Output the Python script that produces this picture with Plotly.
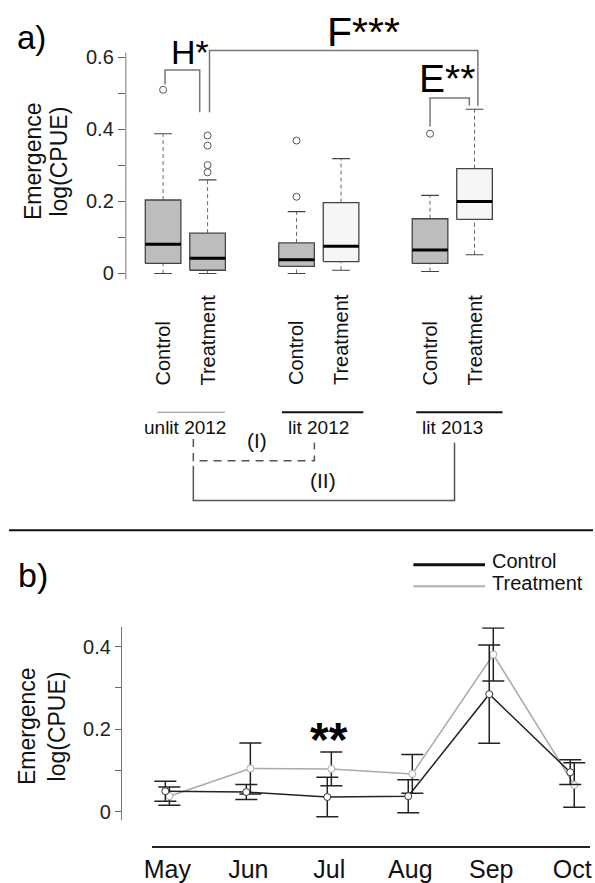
import plotly.graph_objects as go

# ---------------- data ----------------
groups = ["unlit 2012", "lit 2012", "lit 2013"]
treatments = ["Control", "Treatment"]

# box-plot statistics, order: unlit C, unlit T, lit12 C, lit12 T, lit13 C, lit13 T
box_lower = [0.0, 0.0, 0.0, 0.009, 0.0055, 0.052]
box_q1 = [0.028, 0.009, 0.020, 0.033, 0.028, 0.150]
box_median = [0.081, 0.042, 0.0385, 0.076, 0.065, 0.200]
box_q3 = [0.204, 0.112, 0.085, 0.197, 0.152, 0.291]
box_upper = [0.388, 0.260, 0.172, 0.319, 0.217, 0.456]
box_outliers = [[0.51], [0.383, 0.355, 0.301, 0.281], [0.213, 0.369], [], [0.388], []]

months = ["May", "Jun", "Jul", "Aug", "Sep", "Oct"]
control_mean = [0.050, 0.048, 0.036, 0.038, 0.285, 0.096]
control_err = [0.024, 0.018, 0.048, 0.040, 0.119, 0.030]
treatment_mean = [0.038, 0.105, 0.104, 0.092, 0.381, 0.065]
treatment_err = [0.022, 0.062, 0.041, 0.047, 0.064, 0.054]

sig_labels = ["H*", "F***", "E**"]
year_labels = ["(I)", "(II)"]
month_sig = "**"

# ---------------- helpers ----------------
W, H = 595, 883
FONT = "Liberation Sans, Arial, sans-serif"


def px(x):
    return x / W


def py(y):
    return 1 - y / H


fig = go.Figure()

# ---------------- panel a: box plots ----------------
positions = []
for g in range(len(groups)):
    for t in range(len(treatments)):
        positions.append(3 * g + t)

half_w = 0.4
cap_w = 0.2
for i, p in enumerate(positions):
    grp, trt = divmod(i, 2)
    fill = "#bdbdbd" if (trt == 0 or grp == 0) else "#f6f6f6"
    # whiskers (dashed)
    fig.add_trace(go.Scatter(
        x=[p, p, None, p, p],
        y=[box_lower[i], box_q1[i], None, box_q3[i], box_upper[i]],
        mode="lines", line=dict(color="#666", width=1, dash="4px,3px"),
        xaxis="x", yaxis="y", showlegend=False, hoverinfo="skip"))
    # whisker caps
    fig.add_trace(go.Scatter(
        x=[p - cap_w, p + cap_w, None, p - cap_w, p + cap_w],
        y=[box_lower[i], box_lower[i], None, box_upper[i], box_upper[i]],
        mode="lines", line=dict(color="#444", width=1.2),
        xaxis="x", yaxis="y", showlegend=False, hoverinfo="skip"))
    # box body
    fig.add_trace(go.Scatter(
        x=[p - half_w, p + half_w, p + half_w, p - half_w, p - half_w],
        y=[box_q1[i], box_q1[i], box_q3[i], box_q3[i], box_q1[i]],
        mode="lines", fill="toself", fillcolor=fill,
        line=dict(color="#444", width=1.3),
        xaxis="x", yaxis="y", showlegend=False, hoverinfo="skip"))
    # median
    fig.add_trace(go.Scatter(
        x=[p - half_w, p + half_w], y=[box_median[i], box_median[i]],
        mode="lines", line=dict(color="#000", width=3),
        xaxis="x", yaxis="y", showlegend=False, hoverinfo="skip"))
    # outliers
    if box_outliers[i]:
        fig.add_trace(go.Scatter(
            x=[p] * len(box_outliers[i]), y=box_outliers[i], mode="markers",
            marker=dict(symbol="circle-open", size=7, color="#555",
                        line=dict(width=1)),
            xaxis="x", yaxis="y", showlegend=False, hoverinfo="skip"))

# y axis line of panel a
fig.add_shape(type="line", xref="paper", yref="y", x0=px(119), x1=px(119),
              y0=-0.0165, y1=0.6135, line=dict(color="#777", width=1))

# significance brackets in panel a (x in box positions, y in data units)
brackets = [
    # (x_left, y_left_end, x_right, y_right_end, y_top)
    (0.044, 0.525, 0.823, 0.448, 0.565),
    (1.043, 0.448, 7.075, 0.466, 0.619),
    (6.0, 0.408, 6.883, 0.466, 0.487),
]
for xl, yl, xr, yr, yt in brackets:
    fig.add_shape(type="path", xref="x", yref="y",
                  path=f"M{xl},{yl} L{xl},{yt} L{xr},{yt} L{xr},{yr}",
                  line=dict(color="#777", width=1.5))

sig_pos = [(0.596, 0.615, 34), (4.511, 0.671, 41), (6.375, 0.5425, 39)]
for lab, (x, y, s) in zip(sig_labels, sig_pos):
    fig.add_annotation(text=lab, x=x, y=y, xref="x", yref="y",
                       xanchor="center", yanchor="middle", showarrow=False,
                       font=dict(family=FONT, size=s, color="#000"))

# treatment labels (rotated) under each box
for i, p in enumerate(positions):
    fig.add_annotation(text=treatments[i % 2], x=p, y=py(391), xref="x",
                       yref="paper", textangle=-90, xanchor="center",
                       yanchor="bottom", showarrow=False,
                       font=dict(family=FONT, size=20, color="#111"))

# group underlines and labels
underline = [(-0.63, 0.89, "#888", 1), (-0.83, 1.0, "#111", 2),
             (-0.81, 1.13, "#111", 2)]
for g, name in enumerate(groups):
    c = 3 * g + 0.5
    a, b, col, lw = underline[g]
    fig.add_shape(type="line", xref="x", yref="paper", x0=c + a, x1=c + b,
                  y0=py(416), y1=py(416), line=dict(color=col, width=lw))
    fig.add_annotation(text=name, x=c, y=py(431.5), xref="x", yref="paper",
                       xanchor="center", yanchor="middle", showarrow=False,
                       font=dict(family=FONT, size=19, color="#111"))

# year comparison brackets (I) dashed, (II) solid
fig.add_shape(type="path", xref="x", yref="paper",
              path=f"M0.68,{py(443)} L0.68,{py(465)} L3.4,{py(465)} L3.4,{py(446.7)}",
              line=dict(color="#555", width=1.5, dash="8px,6px"))
fig.add_shape(type="path", xref="x", yref="paper",
              path=f"M0.68,{py(470)} L0.68,{py(505)} L6.55,{py(505)} L6.55,{py(446.7)}",
              line=dict(color="#555", width=1.5))
fig.add_annotation(text=year_labels[0], x=2.12, y=py(445), xref="x",
                   yref="paper", showarrow=False, xanchor="center",
                   yanchor="middle",
                   font=dict(family=FONT, size=21, color="#111"))
fig.add_annotation(text=year_labels[1], x=3.6, y=py(485), xref="x",
                   yref="paper", showarrow=False, xanchor="center",
                   yanchor="middle",
                   font=dict(family=FONT, size=21, color="#111"))

# ---------------- panel b: monthly means ----------------
idx = list(range(len(months)))
fig.add_trace(go.Scatter(
    x=[i + 0.025 for i in idx], y=treatment_mean, mode="lines+markers",
    line=dict(color="#aaa", width=1.5),
    marker=dict(size=7, color="white", line=dict(color="#aaa", width=1)),
    error_y=dict(type="data", array=treatment_err, color="#222",
                 thickness=1.5, width=11),
    xaxis="x2", yaxis="y2", showlegend=False, hoverinfo="skip"))
fig.add_trace(go.Scatter(
    x=[i - 0.025 for i in idx], y=control_mean, mode="lines+markers",
    line=dict(color="#222", width=1.5),
    marker=dict(size=7, color="white", line=dict(color="#333", width=1)),
    error_y=dict(type="data", array=control_err, color="#222",
                 thickness=1.5, width=11),
    xaxis="x2", yaxis="y2", showlegend=False, hoverinfo="skip"))

fig.add_annotation(text=f"<b>{month_sig}</b>", x=2, y=0.176, xref="x2",
                   yref="y2", showarrow=False, xanchor="center",
                   yanchor="middle",
                   font=dict(family=FONT, size=48, color="#000"))

# legend drawn by hand
for (name, col, lw, yy, ty) in [("Control", "#111", 3, 570, 565.7),
                                ("Treatment", "#bbb", 2.5, 591.7, 588.3)]:
    fig.add_shape(type="line", xref="paper", yref="paper", x0=px(412),
                  x1=px(485), y0=py(yy), y1=py(yy),
                  line=dict(color=col, width=lw))
    fig.add_annotation(text=name, x=px(490), y=py(ty), xref="paper",
                       yref="paper", xanchor="left", yanchor="middle",
                       showarrow=False,
                       font=dict(family=FONT, size=20, color="#111"))

# ---------------- shared decorations ----------------
fig.add_shape(type="line", xref="paper", yref="paper", x0=0, x1=1,
              y0=py(535), y1=py(535), line=dict(color="#111", width=2))

fig.add_annotation(text="a)", x=px(6), y=py(38), xref="paper",
                   yref="paper", xanchor="left", yanchor="middle",
                   showarrow=False, font=dict(family=FONT, size=33, color="#000"))
fig.add_annotation(text="b)", x=px(7), y=py(580), xref="paper",
                   yref="paper", xanchor="left", yanchor="middle",
                   showarrow=False, font=dict(family=FONT, size=34, color="#000"))

for (xe, xl, yc) in [(24, 50, 163), (19, 49, 733)]:
    fig.add_annotation(text="Emergence", x=px(xe), y=py(yc), xref="paper",
                       yref="paper", textangle=-90, showarrow=False,
                       xanchor="center", yanchor="middle",
                       font=dict(family=FONT, size=23, color="#111"))
    fig.add_annotation(text="log(CPUE)", x=px(xl), y=py(yc), xref="paper",
                       yref="paper", textangle=-90, showarrow=False,
                       xanchor="center", yanchor="middle",
                       font=dict(family=FONT, size=23, color="#111"))

tick_font = dict(family=FONT, size=20, color="#222")
fig.update_layout(
    width=W, height=H, margin=dict(l=0, r=0, t=0, b=0),
    paper_bgcolor="white", plot_bgcolor="white", showlegend=False,
    xaxis=dict(domain=[px(119), px(519)], range=[-0.838, 7.986],
               visible=False, fixedrange=True),
    yaxis=dict(domain=[py(282), py(10)], range=[-0.0165, 0.7318],
               anchor="x", showline=False, showgrid=False, zeroline=False,
               ticks="outside", ticklen=7, tickcolor="#666", tickwidth=1,
               tickvals=[0, 0.1, 0.2, 0.3, 0.4, 0.5, 0.6],
               ticktext=["0", "", "0.2", "", "0.4", "", "0.6"],
               tickfont=tick_font),
    # month axis: centres at 161.3 px + 82.5 px per month
    xaxis2=dict(domain=[px(146), px(592)], range=[-0.186, 5.22],
                anchor="free", position=py(855), showline=True,
                linecolor="#222", linewidth=1.5, ticks="", showgrid=False,
                zeroline=False, tickvals=idx, ticktext=months,
                tickfont=dict(family=FONT, size=25, color="#111")),
    yaxis2=dict(domain=[py(827), py(633)], range=[-0.0185, 0.447],
                anchor="free", position=px(114), showline=True,
                linecolor="#777", linewidth=1, showgrid=False,
                zeroline=False, ticks="outside", ticklen=6,
                tickcolor="#666", tickvals=[0, 0.1, 0.2, 0.3, 0.4],
                ticktext=["0", "", "0.2", "", "0.4"],
                tickfont=dict(family=FONT, size=20, color="#222")),
)

fig.write_html("out.html")
